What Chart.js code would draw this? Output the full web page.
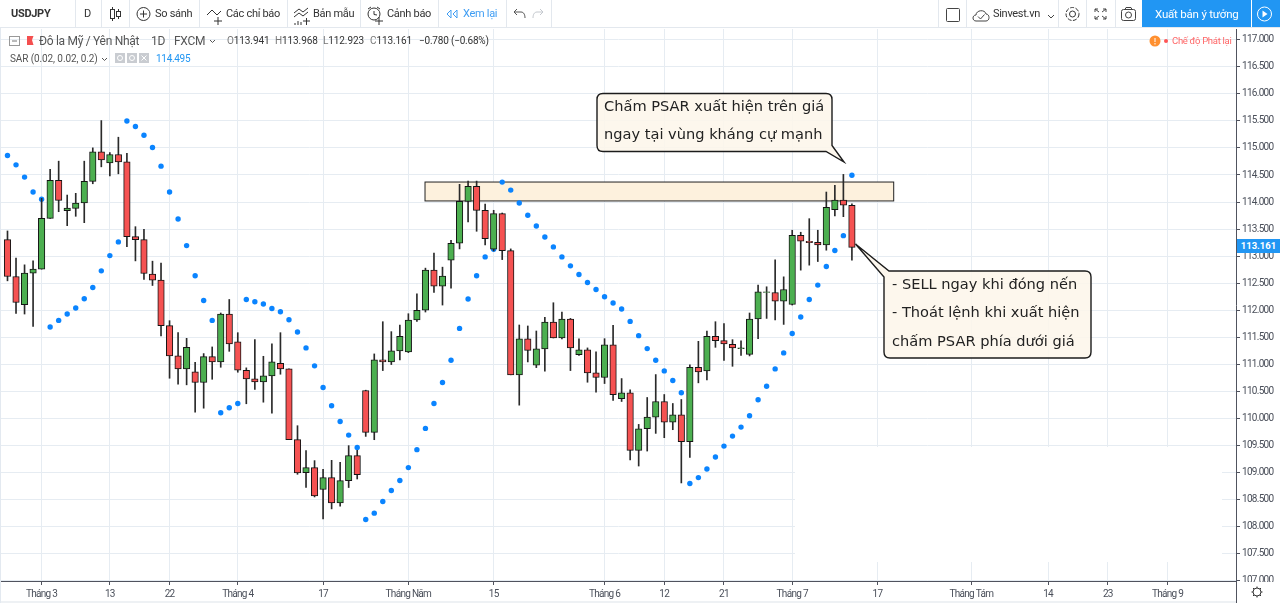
<!DOCTYPE html>
<html>
<head>
<meta charset="utf-8">
<title>USDJPY</title>
<script src="https://cdn.jsdelivr.net/npm/chart.js@4/dist/chart.umd.min.js"></script>
<style>
html,body{margin:0;padding:0;background:#fff;width:1280px;height:603px;overflow:hidden}
body{font-family:Roboto,"Liberation Sans",sans-serif;color:#333}
#chartWrap{position:absolute;left:-3px;top:25px;width:1283px;height:578px}
#icons{position:absolute;left:0;top:0;z-index:3}
.t{position:absolute;white-space:nowrap;font-size:11px;line-height:14px;letter-spacing:-0.3px;z-index:4}
#toolbar{position:absolute;left:0;top:0;width:1280px;height:27px;background:#fff;border-bottom:1px solid #e3e8ee;z-index:2}
#publish{position:absolute;left:1142px;top:0;width:109px;height:27px;background:#2196f3;z-index:2}
#play{position:absolute;left:1252px;top:0;width:28px;height:27px;background:#2196f3;z-index:2}
#tag{position:absolute;left:1237px;top:239px;width:43px;height:14px;background:#2196f3;color:#fff;font-size:9.5px;font-weight:bold;line-height:14px;text-align:center;z-index:4}
#corner{position:absolute;left:1236px;top:582px;width:44px;height:21px;background:#fff;border-left:1px solid #50535e;z-index:2}
#strip{position:absolute;left:0;top:601px;width:1236px;height:2px;background:#eef1f4;z-index:2}
#edge{position:absolute;left:0;top:28px;width:1px;height:575px;background:#e3e9f0;z-index:2}
</style>
</head>
<body>
<div id="toolbar"></div>
<div id="publish"></div>
<div id="play"></div>
<div id="chartWrap"><canvas id="chart" width="1283" height="578"></canvas></div>
<div id="corner"></div>
<div id="strip"></div>
<div id="edge"></div>
<div id="tag">113.161</div>

<svg id="icons" width="1280" height="603" fill="none" stroke="#333" stroke-width="1">
  <g stroke="#e3e8ee">
    <path d="M75.5 0V27M101.5 0V27M129.5 0V27M199.5 0V27M287.5 0V27M360.5 0V27M438.5 0V27M506.5 0V27M551.5 0V27"/>
    <path d="M938.5 0V27M966.5 0V27M1058.5 0V27M1086.5 0V27M1115.5 0V27"/>
  </g>
  <!-- nen -->
  <path d="M112.5 7V21M118.5 9V19"/><rect x="110.5" y="9.5" width="4" height="9" fill="#fff"/><rect x="116.5" y="11.5" width="4" height="5" fill="#fff"/>
  <!-- so sanh -->
  <circle cx="143.5" cy="14" r="6.5"/><path d="M140 14H147M143.5 10.5V17.5"/>
  <!-- chi bao -->
  <path d="M207 15L212 10L217 15L221 11M214 21H222M218 17V25"/>
  <!-- ban mau -->
  <path d="M294 13L299 9L303 12L308 8M294 17L299 13L303 16L308 12M295 25V23M298 25V21M301 25V22M303 21H310M306.5 18V25"/>
  <!-- canh bao -->
  <circle cx="374" cy="14" r="6"/><path d="M374 11V14.5L377 15M368 9L371 7M380 9L377 7M375 21H383M379 17V25"/>
  <!-- xem lai -->
  <path d="M451 10L447 14L451 18ZM457 10L453 14L457 18Z" stroke="#3f9df3"/>
  <path d="M514 12H521C524 12 525 15 525 18M514 12L517 9M514 12L517 15" stroke="#555"/>
  <path d="M543 12H537C534 12 533 15 533 18M543 12L540 9M543 12L540 15" stroke="#c4c8ce"/>
  <!-- ben phai -->
  <rect x="946.5" y="8.5" width="13" height="13" rx="1" stroke="#444"/>
  <path d="M976 21C972 21 972 15 976 15C976 10 985 9 986 14C990 14 990 21 986 21ZM978 16.5L980.5 19L984.5 14.5" stroke="#444"/>
  <path d="M1048 15L1051 18L1054 15" stroke="#444"/>
  <circle cx="1072.5" cy="14" r="3" stroke="#333"/><circle cx="1072.5" cy="14" r="6.5" stroke="#333" stroke-dasharray="4 1.5"/>
  <path d="M1095 12V9H1098M1103 9H1106V12M1095 16V19H1098M1106 16V19H1103M1095 9L1099 12M1106 9L1102 12M1095 19L1099 16M1106 19L1102 16" stroke="#444"/>
  <rect x="1121.5" y="9.5" width="14" height="11" rx="2" stroke="#444"/><circle cx="1128.5" cy="15" r="3" stroke="#444"/><path d="M1125 9.5L1126 7.5H1131L1132 9.5" stroke="#444"/>
  <circle cx="1264.5" cy="14" r="7" stroke="#fff"/><path d="M1262.5 10.5L1267.5 14L1262.5 17.5Z" fill="#fff" stroke="none"/>
  <!-- legende -->
  <rect x="9.5" y="36.5" width="10" height="9" stroke="#999"/><path d="M12 41H17" stroke="#777"/>
  <path d="M27 36H33.5L32 40L33.5 45H27Z" fill="#f44f4f" stroke="none"/>
  <path d="M210 40L212.5 42.5L215 40M102 58L104.5 60.5L107 58" stroke="#555"/>
  <rect x="115" y="53" width="10" height="10" fill="#c9ccd1" stroke="none"/><rect x="127" y="53" width="10" height="10" fill="#c9ccd1" stroke="none"/><rect x="139" y="53" width="10" height="10" fill="#c9ccd1" stroke="none"/>
  <circle cx="120" cy="58" r="2.5" stroke="#fff"/><circle cx="132" cy="58" r="2.5" stroke="#fff"/><path d="M141.5 55.5L146.5 60.5M146.5 55.5L141.5 60.5" stroke="#fff"/>
  <circle cx="1155" cy="41" r="5.5" fill="#ff9030" stroke="none"/><path d="M1155 38V42M1155 43V44.5" stroke="#fff"/>
  <circle cx="1166" cy="41" r="2" fill="#f55" stroke="none"/>
  <!-- reglage en bas -->
  <circle cx="1257" cy="592" r="4" stroke="#333"/><path d="M1257 586.5V588M1257 596V597.5M1251.5 592H1253M1261 592H1262.5M1253 588L1254 589M1260 595L1261 596M1261 588L1260 589M1254 595L1253 596" stroke="#333"/>
</svg>

<span class="t" style="left:11px;top:7px;font-weight:bold;color:#333">USDJPY</span>
<span class="t" style="left:84px;top:7px">D</span>
<span class="t" style="left:155px;top:7px">So sánh</span>
<span class="t" style="left:226px;top:7px">Các chỉ báo</span>
<span class="t" style="left:313px;top:7px">Bản mẫu</span>
<span class="t" style="left:387px;top:7px">Cảnh báo</span>
<span class="t" style="left:463px;top:7px;color:#3f9df3">Xem lại</span>
<span class="t" style="left:993px;top:7px">Sinvest.vn</span>
<span class="t" style="left:1155px;top:7px;color:#fff;font-size:11.5px;letter-spacing:-0.2px">Xuất bản ý tưởng</span>

<span class="t" style="left:39px;top:34px;font-size:12px;color:#555">Đô la Mỹ / Yên Nhật</span>
<span class="t" style="left:151px;top:34px;font-size:12px;color:#555">1D</span>
<span class="t" style="left:174px;top:34px;font-size:12px;color:#555">FXCM</span>
<span class="t" style="left:227px;top:34px;font-size:10px;color:#333;letter-spacing:-0.1px"><span style="color:#777">O</span>113.941</span>
<span class="t" style="left:275px;top:34px;font-size:10px;color:#333;letter-spacing:-0.1px"><span style="color:#777">H</span>113.968</span>
<span class="t" style="left:323px;top:34px;font-size:10px;color:#333;letter-spacing:-0.1px"><span style="color:#777">L</span>112.923</span>
<span class="t" style="left:370px;top:34px;font-size:10px;color:#333;letter-spacing:-0.1px"><span style="color:#777">C</span>113.161</span>
<span class="t" style="left:419px;top:34px;font-size:10px;color:#333;letter-spacing:-0.2px">−0.780 (−0.68%)</span>
<span class="t" style="left:10px;top:52px;font-size:10px;color:#555;letter-spacing:-0.1px">SAR (0.02, 0.02, 0.2)</span>
<span class="t" style="left:156px;top:52px;font-size:10px;color:#2196f3;letter-spacing:-0.3px">114.495</span>
<span class="t" style="left:1172px;top:34px;font-size:9.5px;color:#f66;letter-spacing:-0.3px">Chế độ Phát lại</span>

<script>
// bougies, de gauche a droite
var opens = [113.304,112.622,112.100,112.685,112.758,113.699,114.400,113.840,113.884,113.982,114.382,114.928,114.725,114.880,114.744,113.360,113.304,112.666,112.555,111.712,111.153,110.913,110.858,110.661,111.140,111.042,111.928,111.412,110.888,110.729,110.673,110.784,111.017,110.913,109.603,108.995,109.087,108.681,108.902,108.434,108.847,109.308,110.513,109.738,111.079,111.042,111.245,111.227,111.817,111.998,112.740,112.445,112.924,113.238,114.013,114.290,113.847,113.127,113.784,113.102,110.803,111.467,110.980,111.282,111.781,111.485,111.836,111.177,111.264,110.840,110.753,111.356,110.360,110.471,109.406,109.806,110.020,110.310,109.928,110.065,109.566,110.943,110.876,111.515,111.435,111.367,111.288,111.183,111.836,112.327,112.327,112.168,112.105,113.386,113.275,113.256,113.207,113.858,114.037,113.941];
var highs = [113.465,112.961,112.838,112.911,114.068,114.603,114.756,114.129,114.161,114.756,115.002,115.507,114.917,115.199,114.899,113.544,113.496,112.906,112.869,111.805,111.583,111.478,111.035,111.196,111.319,111.947,112.197,111.583,110.932,111.454,111.146,111.375,111.583,110.913,109.862,109.400,109.216,109.055,109.221,109.185,109.493,109.406,110.519,111.190,111.786,111.602,111.725,111.934,112.303,112.777,113.054,112.795,113.293,114.327,114.387,114.387,113.963,113.847,113.797,113.133,111.725,111.707,111.614,111.865,112.137,111.965,111.847,111.467,111.301,111.227,111.472,111.718,110.734,110.526,109.886,110.384,110.808,110.439,110.273,110.347,110.987,111.423,111.614,111.786,111.749,111.454,111.430,111.947,112.463,112.432,112.930,112.616,113.478,113.441,113.692,113.478,114.185,114.308,114.511,113.968];
var lows = [112.542,111.939,111.928,111.699,112.758,113.699,113.821,113.563,113.736,113.618,114.338,114.651,114.485,114.522,113.175,112.911,112.566,112.456,111.522,110.740,110.629,110.618,110.113,110.186,110.721,110.943,111.238,110.851,110.268,110.532,110.297,110.094,110.814,109.603,108.963,108.718,108.544,108.138,108.323,108.373,108.718,108.876,109.664,109.603,110.882,110.993,111.079,111.214,111.792,111.965,112.327,112.094,112.408,113.133,113.631,113.459,113.207,113.096,112.935,110.803,110.242,111.042,110.937,110.869,111.485,111.467,110.882,111.164,110.666,110.482,110.642,110.328,110.310,109.227,109.116,109.393,109.720,109.640,109.788,108.803,109.277,110.655,110.710,111.312,111.072,110.961,111.164,111.153,111.472,111.847,111.817,111.736,112.094,112.740,112.832,112.899,113.109,113.742,113.729,112.923];
var closes = [112.622,112.142,112.685,112.758,113.699,114.400,114.031,113.889,113.982,114.382,114.928,114.780,114.880,114.744,113.360,113.304,112.677,112.555,111.712,111.153,110.913,111.312,110.661,111.140,111.042,111.928,111.375,110.888,110.729,110.673,110.784,111.042,110.913,109.603,108.987,109.087,108.563,108.902,108.434,108.847,109.308,108.958,109.738,111.079,111.042,111.245,111.515,111.817,111.998,112.740,112.445,112.629,113.238,114.013,114.290,113.847,113.323,113.784,113.102,110.803,111.467,111.256,111.282,111.781,111.485,111.836,111.301,111.264,110.840,110.753,111.356,110.434,110.471,109.406,109.806,110.020,110.310,109.928,110.065,109.566,110.943,110.858,111.515,111.435,111.375,111.301,111.301,111.836,112.340,112.340,112.168,112.382,113.386,113.275,113.249,113.207,113.902,114.037,113.941,113.161];
// indicateur SAR (0.02, 0.02, 0.2)
var sar = [114.862,114.688,114.461,114.185,114.050,111.688,111.810,111.928,112.039,112.210,112.419,112.727,113.009,113.262,115.500,115.397,115.236,115.009,114.664,114.185,113.686,113.194,112.635,112.179,111.810,110.102,110.194,110.273,112.197,112.155,112.113,112.031,111.971,111.823,111.596,111.301,110.969,110.568,110.231,109.941,109.688,109.461,108.127,108.244,108.460,108.662,108.847,109.087,109.419,109.812,110.273,110.661,111.072,111.662,112.205,112.635,112.985,113.127,114.369,114.221,113.982,113.755,113.557,113.354,113.170,112.985,112.819,112.659,112.511,112.382,112.247,112.131,112.020,111.792,111.528,111.288,111.072,110.876,110.697,110.471,108.792,108.902,109.061,109.282,109.485,109.670,109.836,110.046,110.341,110.592,110.913,111.209,111.568,111.873,112.197,112.463,112.806,113.102,113.378,114.495];

var priceTicks = [107,107.5,108,108.5,109,109.5,110,110.5,111,111.5,112,112.5,113,113.5,114,114.5,115,115.5,116,116.5,117];
var timeTicks = [4,12,19,27,37,47,57,70,77,84,92,102,113,122,129,136];
var timeLabels = ["Tháng 3","13","22","Tháng 4","17","Tháng Năm","15","Tháng 6","12","21","Tháng 7","17","Tháng Tám","14","23","Tháng 9"];

// zone de resistance : de la bougie 49 a 104 environ
var zoneBars = [48.95,103.9];
var zonePrices = [114.02,114.37];

var noteTop = ["Chấm PSAR xuất hiện trên giá","ngay tại vùng kháng cự mạnh"];
var noteRight = ["- SELL ngay khi đóng nến","- Thoát lệnh khi xuất hiện","chấm PSAR phía dưới giá"];

var wicks = [], bodies = [], dots = [], bodyColors = [];
for (var i = 0; i < opens.length; i++) {
  wicks.push({x: i, y: [lows[i], highs[i]]});
  bodies.push({x: i, y: [opens[i], closes[i]]});
  dots.push({x: i, y: sar[i]});
  bodyColors.push(closes[i] >= opens[i] ? "#4caf50" : "#f55252");
}

function bubble(ctx, x, y, w, h, tail) {
  var r = 6;
  ctx.beginPath();
  ctx.moveTo(x + r, y);
  ctx.lineTo(x + w - r, y);
  ctx.quadraticCurveTo(x + w, y, x + w, y + r);
  if (tail.side == "right") {
    ctx.lineTo(x + w, y + h - 6);
    ctx.lineTo(tail.x, tail.y);
    ctx.lineTo(x + w - 6, y + h);
  } else {
    ctx.lineTo(x + w, y + h - r);
    ctx.quadraticCurveTo(x + w, y + h, x + w - r, y + h);
  }
  if (tail.side != "right") {
    ctx.lineTo(x + r, y + h);
    ctx.quadraticCurveTo(x, y + h, x, y + h - r);
    ctx.lineTo(x, y + 6);
    ctx.lineTo(tail.x, tail.y);
    ctx.lineTo(x + 5, y);
  } else {
    ctx.lineTo(x + r, y + h);
    ctx.quadraticCurveTo(x, y + h, x, y + h - r);
    ctx.lineTo(x, y + r);
    ctx.quadraticCurveTo(x, y, x + r, y);
  }
  ctx.closePath();
  ctx.fillStyle = "rgba(253,246,234,0.88)";
  ctx.strokeStyle = "#1c1c1c";
  ctx.lineWidth = 1.4;
  ctx.fill();
  ctx.stroke();
}

// le canvas est decale de (-3, 25) : Chart.js garde 2.5px de marge a cause des points SAR
var overlay = {
  id: "overlay",
  beforeDraw: function(chart) {
    chart.ctx.letterSpacing = "-0.7px";
  },
  beforeDatasetsDraw: function(chart) {
    var c = chart.ctx, xs = chart.scales.x, ys = chart.scales.y;
    c.save();
    // coin efface dans la capture d'origine
    c.fillStyle = "#fff";
    c.fillRect(798, 422, 427, 115);
    // zone
    var zx = xs.getPixelForValue(zoneBars[0]), zw = xs.getPixelForValue(zoneBars[1]) - zx;
    var zy = ys.getPixelForValue(zonePrices[1]), zh = ys.getPixelForValue(zonePrices[0]) - zy;
    c.fillStyle = "#fdf1dd";
    c.strokeStyle = "#222";
    c.lineWidth = 1;
    c.fillRect(zx, zy, zw, zh);
    c.strokeRect(zx, zy, zw, zh);
    c.restore();
  },
  afterDatasetsDraw: function(chart) {
    var c = chart.ctx;
    c.save();
    c.translate(3, 3);
    c.letterSpacing = "0px";
    bubble(c, 597, 65.5, 235, 58, {side: "right", x: 844, y: 134});
    bubble(c, 884, 243, 207, 87, {side: "left", x: 855.5, y: 216});
    c.fillStyle = "#222";
    c.font = "14.6px 'DejaVu Sans'";
    c.textBaseline = "middle";
    c.fillText(noteTop[0], 604, 79);
    c.fillText(noteTop[1], 604, 107);
    c.fillText(noteRight[0], 892, 257);
    c.fillText(noteRight[1], 892, 285);
    c.fillText(noteRight[2], 892, 314);
    c.restore();
  }
};

function noPadding(axis) {
  axis.paddingLeft = 0;
  axis.paddingRight = 0;
  axis.paddingTop = 0;
  axis.paddingBottom = 0;
}

new Chart(document.getElementById("chart"), {
  type: "bar",
  data: {
    datasets: [
      {label: "Bodies", data: bodies, backgroundColor: bodyColors, borderColor: "#141414", borderWidth: 1, borderSkipped: false, barThickness: 6.5, grouped: false, order: 0},
      {label: "Wicks", data: wicks, backgroundColor: "#2a2a2a", borderWidth: 0, barThickness: 1, grouped: false, order: 1},
      {label: "SAR", type: "line", data: dots, showLine: false, pointRadius: 2.7, pointBackgroundColor: "#0a84ff", pointBorderWidth: 0, order: 2}
    ]
  },
  options: {
    responsive: false,
    animation: false,
    devicePixelRatio: 1,
    plugins: {legend: {display: false}, tooltip: {enabled: false}},
    layout: {padding: 0},
    scales: {
      x: {
        type: "linear",
        offset: false,
        min: -0.7611,
        max: 144.03,
        afterBuildTicks: function(axis) {
          axis.ticks = timeTicks.map(function(v) { return {value: v}; });
        },
        afterFit: function(axis) { axis.height = 22; noPadding(axis); },
        grid: {offset: false, color: "#e6ecf2", tickColor: "#50535e", tickLength: 4},
        border: {color: "#50535e"},
        ticks: {
          autoSkip: false,
          maxRotation: 0,
          padding: 3,
          color: "#4a4f5a",
          font: {family: "Roboto", size: 10},
          callback: function(v) { return timeLabels[timeTicks.indexOf(v)]; }
        }
      },
      y: {
        position: "right",
        min: 106.989,
        max: 117.201,
        afterBuildTicks: function(axis) {
          axis.ticks = priceTicks.map(function(v) { return {value: v}; });
        },
        afterFit: function(axis) { axis.width = 44; noPadding(axis); },
        grid: {color: "#e6ecf2", tickColor: "#50535e", tickLength: 4},
        border: {color: "#50535e"},
        ticks: {
          padding: 2,
          color: "#4a4f5a",
          font: {family: "Roboto", size: 10},
          callback: function(v) { return v.toFixed(3); }
        }
      }
    }
  },
  plugins: [overlay]
});
</script>
</body>
</html>
